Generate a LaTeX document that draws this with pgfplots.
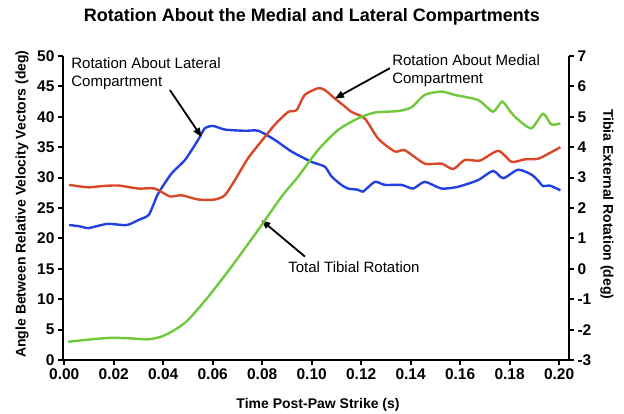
\documentclass[border=0pt]{standalone}
\usepackage{fontspec}
\setmainfont{Liberation Sans}
\usepackage{pgfplots}
\pgfplotsset{compat=1.18}
\usetikzlibrary{arrows.meta}
\definecolor{cblue}{RGB}{35,65,225}
\definecolor{cred}{RGB}{215,72,40}
\definecolor{cgreen}{RGB}{112,200,60}

\pgfplotstableread{
x y
0.002 22.2
0.006 22.0
0.0097 21.7
0.014 22.1
0.0178 22.4
0.0252 22.2
0.0299 23.0
0.034 23.8
0.036 25.5
0.038 27.4
0.0434 30.7
0.0488 32.9
0.0541 36.2
0.0568 38.1
0.0602 38.5
0.0649 37.9
0.073 37.7
0.0784 37.7
0.0851 36.2
0.0918 34.3
0.0999 32.6
0.1053 31.8
0.108 30.2
0.112 28.8
0.1147 28.2
0.1188 28.0
0.1208 27.7
0.1255 29.3
0.1296 28.8
0.1363 28.8
0.141 28.2
0.1457 29.3
0.1525 28.2
0.1592 28.5
0.1673 29.6
0.1733 31.1
0.1774 29.9
0.1834 31.3
0.1888 30.5
0.1915 29.5
0.1935 28.6
0.1962 28.7
0.2005 27.9
}\lateral

\pgfplotstableread{
x y
0.002 28.8
0.0097 28.4
0.0151 28.6
0.0218 28.7
0.0299 28.2
0.0366 28.2
0.0427 26.9
0.0474 27.1
0.0541 26.4
0.0609 26.4
0.0649 27.1
0.069 29.6
0.0743 33.2
0.0811 36.7
0.0851 38.7
0.0905 40.8
0.0939 41.1
0.0972 43.6
0.1026 44.7
0.1053 44.4
0.1094 43.0
0.1134 41.7
0.1161 40.8
0.1215 39.7
0.1269 36.4
0.1336 34.3
0.1376 34.5
0.1457 32.3
0.1525 32.3
0.1572 31.4
0.1619 32.9
0.168 32.8
0.1754 34.4
0.1808 32.6
0.1861 33.0
0.1915 33.1
0.196 34.0
0.2005 35.0
}\medial

\pgfplotstableread{
x y
0.0016 -2.40
0.011 -2.32
0.0191 -2.27
0.0272 -2.29
0.0339 -2.32
0.0393 -2.23
0.0447 -2.01
0.0501 -1.68
0.0582 -0.92
0.0676 0.07
0.0784 1.28
0.0878 2.37
0.0945 3.03
0.1026 3.91
0.1107 4.57
0.1188 4.95
0.1255 5.14
0.1349 5.19
0.1403 5.31
0.1457 5.72
0.1525 5.83
0.1578 5.72
0.1673 5.55
0.1733 5.17
0.177 5.50
0.1805 5.15
0.1835 4.90
0.1888 4.62
0.1935 5.10
0.1968 4.75
0.2005 4.78
}\total

\begin{document}
\begin{tikzpicture}[x=1pt,y=1pt]
\useasboundingbox (0,0) rectangle (624,413);
\pgfplotsset{
  common/.style={
    at={(63pt,53pt)}, anchor=south west,
    width=506pt, height=304pt, scale only axis,
    xmin=-0.0005, xmax=0.204,
    axis line style={-, line width=2pt, black},
    tick style={line width=2pt, black},
    major tick length=5pt,
    tick align=outside,
    /pgf/number format/assume math mode=true,
    tick label style={font=\fontsize{15.5}{15.5}\selectfont\bfseries},
  }
}
\begin{axis}[common,
  axis x line*=bottom, axis y line*=left,
  ymin=0, ymax=50, ytick={0,5,...,50},
  xtick={0,0.02,...,0.201},
  xticklabel style={/pgf/number format/.cd, fixed, fixed zerofill, precision=2},
  xlabel={Time Post-Paw Strike (s)},
  ylabel={Angle Between Relative Velocity Vectors (deg)},
  every axis x label/.style={at={(axis description cs:0.504,-0.148)}, anchor=center, font=\fontsize{14}{14}\selectfont\bfseries},
  every axis y label/.style={at={(axis description cs:-0.081,0.513)}, anchor=center, rotate=90, font=\fontsize{14}{14}\selectfont\bfseries},
  title={Rotation About the Medial and Lateral Compartments},
  every axis title/.style={at={(axis description cs:0.492,1.128)}, anchor=center, font=\fontsize{18}{18}\selectfont\bfseries},
  clip=false,
]
\addplot[cblue, line width=2.4pt, smooth, tension=0.4] table[x=x,y=y] {\lateral};
\addplot[cred, line width=2.4pt, smooth, tension=0.4] table[x=x,y=y] {\medial};
\node[anchor=west, align=left, font=\fontsize{15}{18}\selectfont, inner sep=0pt] at (axis cs:0.0028,47.1) {Rotation About Lateral\\Compartment};
\draw[-{Triangle[length=9pt,width=7pt]}, line width=1.8pt] (axis cs:0.0427,44.4) -- (axis cs:0.0555,36.7);
\node[anchor=west, align=left, font=\fontsize{15}{18}\selectfont, inner sep=0pt] at (axis cs:0.1325,47.6) {Rotation About Medial\\Compartment};
\draw[-{Triangle[length=9pt,width=7pt]}, line width=1.8pt] (axis cs:0.1316,48.0) -- (axis cs:0.1094,43.0);
\node[anchor=west, font=\fontsize{15}{18}\selectfont, inner sep=0pt] at (axis cs:0.0905,15.3) {Total Tibial Rotation};
\draw[-{Triangle[length=9pt,width=7pt]}, line width=1.8pt] (axis cs:0.0973,17.0) -- (axis cs:0.0797,23.0);
\end{axis}
\begin{axis}[common,
  axis x line=none, axis y line*=right,
  ymin=-3, ymax=7, ytick={-3,-2,...,7},
  ylabel={Tibia External Rotation (deg)},
  every axis y label/.style={at={(axis description cs:1.075,0.512)}, anchor=center, rotate=-90, font=\fontsize{14}{14}\selectfont\bfseries},
]
\addplot[cgreen, line width=2.4pt, smooth, tension=0.4] table[x=x,y=y] {\total};
\end{axis}
\end{tikzpicture}
\end{document}
